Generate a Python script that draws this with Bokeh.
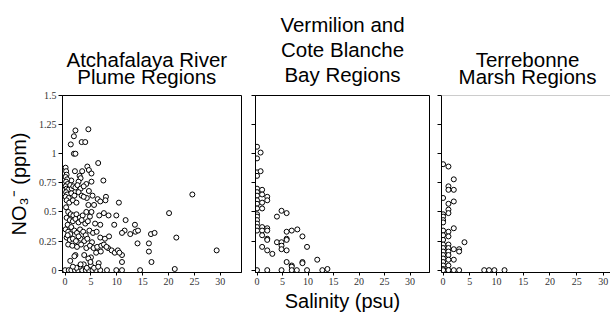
from bokeh.plotting import figure
from bokeh.layouts import row
from bokeh.models import Range1d, FixedTicker, CustomJSTickFormatter, Span
from bokeh.embed import file_html
from bokeh.resources import INLINE

# ---------------- data ----------------
panel_titles = [
    ["Atchafalaya River", "Plume Regions"],
    ["Vermilion and", "Cote Blanche", "Bay Regions"],
    ["Terrebonne", "Marsh Regions"],
]
x_ticks = [0, 5, 10, 15, 20, 25, 30]
y_ticks = [0, 0.25, 0.5, 0.75, 1, 1.25, 1.5]
y_tick_labels = ["0", "0.25", "0.5", "0.75", "1", "1.25", "1.5"]
x_label = "Salinity (psu)"
y_label = "NO\u2083\u207b (ppm)"

# Atchafalaya River Plume Regions
atch_sal = [4.5, 2.0, 1.7, 1.1, 3.2, 3.9, 1.7, 2.0, 6.4, 4.3, 4.6, 1.9, 5.1, 3.3, 2.8, 3.0, 7.4, 5.1, 4.1, 2.6, 1.2,
            7.9, 10.4, 24.6, 20.1, 21.5, 29.3, 21.2, 11.7, 13.5, 11.5, 11.0, 12.6, 13.6, 14.1, 16.6, 17.3, 14.0, 16.2,
            16.2, 16.7, 14.5, 11.0, 11.0, 11.0,
            0.1, 0.2, 0.3, 0.1, 0.4, 0.2, 0.5, 0.1, 0.3, 0.6, 0.2, 0.4, 0.1, 0.7, 0.3, 0.8,
            1.0, 1.3, 1.6, 2.0, 2.4, 3.0, 3.6, 1.2, 1.8, 2.6, 3.2, 4.6, 5.3, 4.2, 1.5, 2.2, 3.6, 6.3, 7.8, 4.5, 5.6, 6.8,
            0.2, 0.6, 1.1, 1.6, 2.2, 2.8, 3.4, 4.1, 5.1, 4.8, 6.6, 7.5, 8.4, 0.3, 0.9, 1.5, 2.0, 2.6, 3.2, 3.9, 4.4,
            5.8, 6.8, 9.5, 9.9, 0.5, 1.2,
            0.1, 0.6, 1.0, 1.8, 2.3, 2.9, 3.5, 4.0, 4.7, 5.4, 6.1, 6.8, 7.7, 8.5, 0.3, 0.9, 1.5, 2.1, 3.0, 3.7, 4.3,
            5.2, 0.5, 2.6,
            0.6, 1.4, 2.3, 3.1, 4.1, 4.8, 5.5, 6.2, 7.0, 7.5, 8.3, 9.0, 9.6, 10.2, 10.5, 6.0, 6.9, 8.0, 3.7, 2.0, 5.0,
            4.5, 1.0, 1.8,
            0.0, 0.7, 1.2, 1.9, 2.5, 3.3, 4.0, 4.6, 5.3, 6.0, 6.8, 8.1, 9.9, 2.8, 3.6, 4.2, 5.0, 5.6, 6.5, 6.4, 3.0,
            2.2, 4.9, 1.5]
atch_no3 = [1.21, 1.20, 1.15, 1.08, 1.10, 1.10, 1.00, 1.00, 0.92, 0.89, 0.86, 0.85, 0.83, 0.85, 0.81, 0.79, 0.77,
            0.76, 0.74, 0.76, 0.77, 0.63, 0.58, 0.65, 0.49, 0.28, 0.17, 0.01, 0.43, 0.39, 0.34, 0.32, 0.31, 0.33,
            0.34, 0.31, 0.32, 0.23, 0.23, 0.16, 0.07, 0.00, 0.13, 0.07, 0.00,
            0.88, 0.85, 0.82, 0.80, 0.78, 0.76, 0.74, 0.72, 0.70, 0.69, 0.67, 0.65, 0.63, 0.62, 0.60, 0.58,
            0.73, 0.70, 0.72, 0.71, 0.73, 0.70, 0.72, 0.66, 0.64, 0.67, 0.64, 0.68, 0.64, 0.62, 0.60, 0.58, 0.63,
            0.61, 0.60, 0.56, 0.56, 0.59,
            0.54, 0.50, 0.48, 0.47, 0.48, 0.45, 0.47, 0.50, 0.50, 0.46, 0.47, 0.49, 0.47, 0.45, 0.43, 0.42, 0.44,
            0.41, 0.43, 0.40, 0.42, 0.40, 0.39, 0.39, 0.47, 0.39, 0.37,
            0.35, 0.33, 0.31, 0.34, 0.32, 0.35, 0.33, 0.30, 0.34, 0.32, 0.33, 0.28, 0.27, 0.29, 0.28, 0.26, 0.27,
            0.25, 0.27, 0.25, 0.27, 0.24, 0.30, 0.29,
            0.22, 0.21, 0.20, 0.22, 0.19, 0.21, 0.19, 0.20, 0.21, 0.22, 0.19, 0.17, 0.15, 0.17, 0.15, 0.15, 0.16,
            0.20, 0.13, 0.13, 0.11, 0.10, 0.08, 0.12,
            0.0, 0.0, 0.0, 0.0, 0.0, 0.0, 0.0, 0.0, 0.0, 0.0, 0.0, 0.0, 0.0, 0.03, 0.05, 0.02, 0.04, 0.02, 0.06,
            0.03, 0.05, 0.02, 0.07, 0.03]

# Vermilion and Cote Blanche Bay Regions
verm_sal = [0, 0, 0.7, 0, 0, 0.7, 0, 0, 0, 0, 0, 0, 0, 0, 0, 0, 0, 0, 1, 1, 1, 1, 2, 2, 1, 1, 1, 2, 2, 2, 2, 1, 2, 3,
            4.8, 3.9, 5.8, 5.8, 6.8, 7.9, 8.9, 3.9, 4.8, 4.8, 4.8, 5.8, 5.8, 5.8, 9.8, 5.8, 6.8, 6.8, 8.9, 8.9, 11.8,
            0, 2, 4.8, 6.8, 7.8, 9.8, 12.8, 13.8]
verm_no3 = [1.06, 0.96, 1.01, 0.84, 0.81, 0.85, 0.70, 0.67, 0.64, 0.60, 0.57, 0.53, 0.48, 0.46, 0.43, 0.40, 0.37,
            0.34, 0.69, 0.65, 0.58, 0.53, 0.63, 0.60, 0.37, 0.34, 0.30, 0.36, 0.34, 0.27, 0.26, 0.20, 0.17, 0.14,
            0.51, 0.46, 0.49, 0.33, 0.34, 0.35, 0.29, 0.24, 0.24, 0.21, 0.18, 0.27, 0.26, 0.17, 0.20, 0.07, 0.04,
            0.03, 0.07, 0.06, 0.09, 0, 0, 0, 0, 0, 0, 0, 0.01]

# Terrebonne Marsh Regions
terr_sal = [0, 1, 2, 1, 1, 2, 0, 1, 2, 1, 1, 0, 0, 0, 0, 2, 0, 1, 0, 1, 0, 4, 0, 0, 0, 0, 0, 0, 0, 0,
            1, 1, 1, 1, 1, 1, 2, 2, 3, 3, 0, 1, 2, 3, 7.7, 8.6, 9.6, 11.5]
terr_no3 = [0.91, 0.89, 0.78, 0.72, 0.69, 0.69, 0.62, 0.57, 0.59, 0.52, 0.49, 0.48, 0.46, 0.43, 0.41, 0.36, 0.34,
            0.33, 0.30, 0.29, 0.26, 0.24, 0.22, 0.19, 0.16, 0.13, 0.10, 0.07, 0.04, 0.01,
            0.22, 0.19, 0.16, 0.13, 0.09, 0.04, 0.18, 0.09, 0.18, 0.16, 0, 0, 0, 0, 0, 0, 0, 0]

# ---------------- layout ----------------
SANS = "Liberation Sans"
SERIF = "Liberation Serif"
TICK_COLOR = "#333333"


def make_panel(sal, no3, title_lines, title_align, title_offset, line_h, title_standoff, x_range, frame_w,
               border_l, border_r, first=False, xlab=None, outline=True):
    p = figure(frame_width=frame_w, frame_height=177,
               min_border_left=border_l, min_border_right=border_r,
               min_border_top=95, min_border_bottom=48,
               x_range=Range1d(*x_range), y_range=Range1d(-0.02, 1.5),
               output_backend="svg", toolbar_location=None)
    p.background_fill_color = "white"
    p.border_fill_color = "white"
    p.grid.visible = False
    if outline:
        p.outline_line_color = "black"
        p.outline_line_width = 1
    else:
        p.outline_line_color = None
        p.add_layout(Span(location=1.5, dimension="width", line_color="#999999", line_width=1))

    # multi-line title, lines centred
    p.title.text = "\n".join(title_lines)
    p.title.align = title_align
    p.title.offset = title_offset
    p.title.text_align = "center"
    p.title.text_font = SANS
    p.title.text_font_size = "20.5px"
    p.title.text_font_style = "normal"
    p.title.text_color = "black"
    p.title.text_line_height = line_h
    p.title.standoff = title_standoff

    # x axis
    xa = p.xaxis[0]
    xa.ticker = FixedTicker(ticks=x_ticks)
    xa.major_tick_out = 3
    xa.major_tick_in = 0
    xa.minor_tick_line_color = None
    xa.axis_line_color = "black"
    xa.major_label_text_font = SERIF
    xa.major_label_text_font_size = "10px"
    xa.major_label_text_color = TICK_COLOR
    xa.major_label_standoff = 2
    if xlab:
        xa.axis_label = xlab
        xa.axis_label_text_font = SANS
        xa.axis_label_text_font_size = "20px"
        xa.axis_label_text_font_style = "normal"
        xa.axis_label_text_color = "black"
        xa.axis_label_standoff = 2

    # y axis
    ya = p.yaxis[0]
    ya.ticker = FixedTicker(ticks=y_ticks)
    ya.major_tick_out = 4
    ya.major_tick_in = 0
    ya.minor_tick_line_color = None
    ya.axis_line_color = "black"
    if first:
        ya.major_label_overrides = {t: lab for t, lab in zip(y_ticks, y_tick_labels)}
        ya.major_label_text_font = SERIF
        ya.major_label_text_font_size = "10px"
        ya.major_label_text_color = TICK_COLOR
        ya.major_label_standoff = 2
        ya.axis_label = y_label
        ya.axis_label_text_font = SANS
        ya.axis_label_text_font_size = "20px"
        ya.axis_label_text_font_style = "normal"
        ya.axis_label_text_color = "black"
        ya.axis_label_standoff = 6
    else:
        ya.formatter = CustomJSTickFormatter(code="return ''")
        ya.major_label_standoff = 0
        ya.major_label_text_font_size = "1px"

    p.scatter(sal, no3, marker="circle", size=5, fill_color="white",
              line_color="black", line_width=1)
    return p


p1 = make_panel(atch_sal, atch_no3, panel_titles[0], "left", 4, 0.78, 14, (-0.5, 34.1), 179, 62, 8, first=True)
p2 = make_panel(verm_sal, verm_no3, panel_titles[1], "center", 0, 1.09, 18, (-0.3, 33.8), 174, 6, 6, xlab=x_label)
p3 = make_panel(terr_sal, terr_no3, panel_titles[2], "center", 0, 0.78, 14, (-0.3, 31.9), 172, 6, 0, outline=False)

layout = row(p1, p2, p3)
open("out.html", "w").write(file_html(layout, INLINE))
